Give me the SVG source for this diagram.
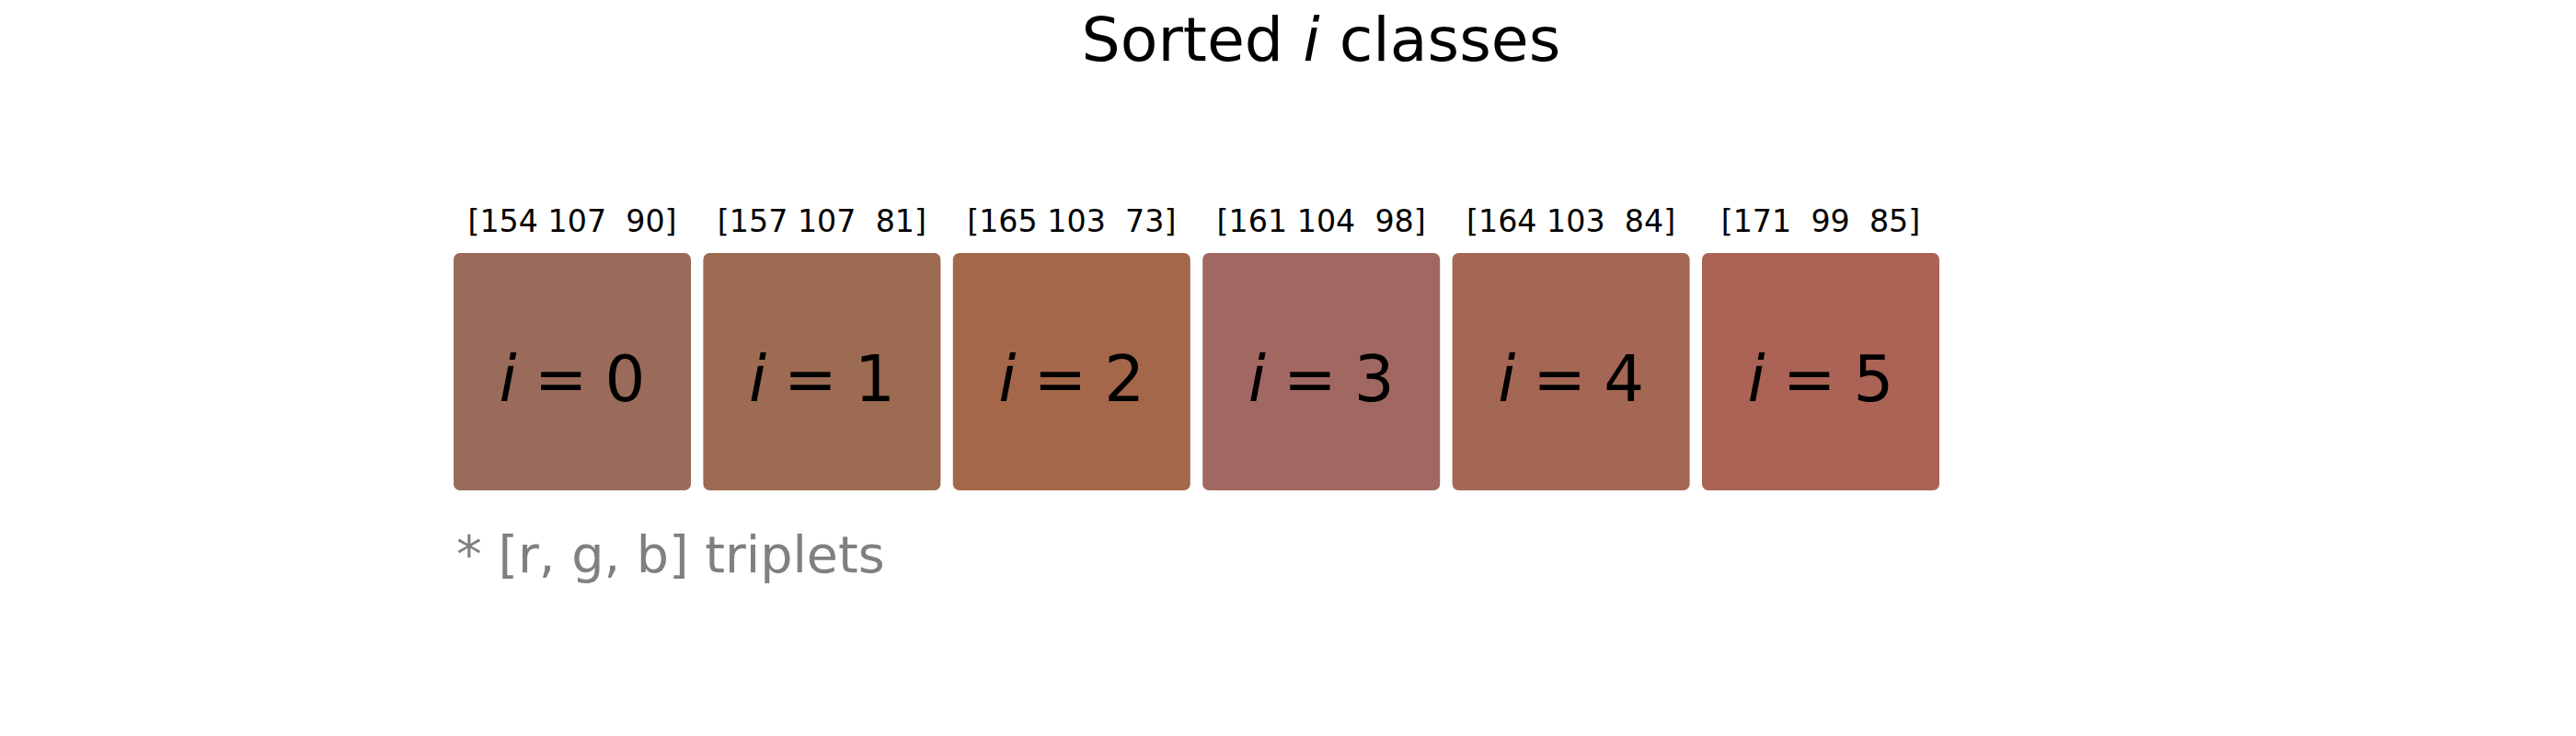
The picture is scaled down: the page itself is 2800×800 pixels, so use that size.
<svg xmlns="http://www.w3.org/2000/svg" width="2800" height="800" viewBox="0 0 2800 800">
<style>
text{font-family:"DejaVu Sans",sans-serif;}
.title{font-size:66.5px;fill:#000;text-anchor:middle;}
.lab{font-size:33.3px;fill:#000;text-anchor:middle;white-space:pre;}
.big{font-size:69px;fill:#000;text-anchor:middle;}
.note{font-size:55.5px;fill:#808080;}
.it{font-style:italic;}
</style>
<rect width="2800" height="800" fill="#fff"/>
<text class="title" x="1436" y="66">Sorted <tspan class="it">i</tspan> classes</text>
<g id="c0"><rect x="493" y="275" width="258" height="258" rx="7" fill="rgb(154,107,90)"/><text class="lab" x="622" y="252">[154 107  90]</text><text class="big" x="622" y="436"><tspan class="it">i</tspan><tspan dx="19">=</tspan><tspan dx="19">0</tspan></text></g>
<g id="c1"><rect x="764.4" y="275" width="258" height="258" rx="7" fill="rgb(157,107,81)"/><text class="lab" x="893.4" y="252">[157 107  81]</text><text class="big" x="893.4" y="436"><tspan class="it">i</tspan><tspan dx="19">=</tspan><tspan dx="19">1</tspan></text></g>
<g id="c2"><rect x="1035.8" y="275" width="258" height="258" rx="7" fill="rgb(165,103,73)"/><text class="lab" x="1164.8" y="252">[165 103  73]</text><text class="big" x="1164.8" y="436"><tspan class="it">i</tspan><tspan dx="19">=</tspan><tspan dx="19">2</tspan></text></g>
<g id="c3"><rect x="1307.2" y="275" width="258" height="258" rx="7" fill="rgb(161,104,98)"/><text class="lab" x="1436.2" y="252">[161 104  98]</text><text class="big" x="1436.2" y="436"><tspan class="it">i</tspan><tspan dx="19">=</tspan><tspan dx="19">3</tspan></text></g>
<g id="c4"><rect x="1578.6" y="275" width="258" height="258" rx="7" fill="rgb(164,103,84)"/><text class="lab" x="1707.6" y="252">[164 103  84]</text><text class="big" x="1707.6" y="436"><tspan class="it">i</tspan><tspan dx="19">=</tspan><tspan dx="19">4</tspan></text></g>
<g id="c5"><rect x="1850" y="275" width="258" height="258" rx="7" fill="rgb(171,99,85)"/><text class="lab" x="1979" y="252">[171  99  85]</text><text class="big" x="1979" y="436"><tspan class="it">i</tspan><tspan dx="19">=</tspan><tspan dx="19">5</tspan></text></g>
<g id="connectors"/>
<text class="note" x="496" y="622">* [r, g, b] triplets</text>
</svg>
